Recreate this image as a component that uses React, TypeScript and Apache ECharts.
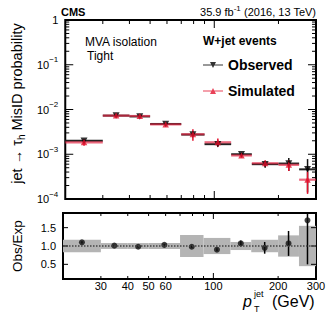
import React, { useEffect, useRef } from 'react';
import * as echarts from 'echarts';

// ---- data ----
const binEdges = [20, 30, 40, 50, 70, 90, 120, 150, 200, 250, 300];
const observed = [2.0e-3, 7.3e-3, 7.0e-3, 4.75e-3, 2.75e-3, 1.68e-3, 1.0e-3, 6.0e-4, 6.2e-4, 4.6e-4];
const observedErr = [0.06e-3, 0.15e-3, 0.14e-3, 0.14e-3, 0.14e-3, 0.08e-3, 0.07e-3, 1.0e-4, 2.0e-4, 3.2e-4];
const simulated = [1.85e-3, 7.3e-3, 7.15e-3, 4.65e-3, 2.8e-3, 1.85e-3, 0.94e-3, 6.3e-4, 5.8e-4, 2.7e-4];
const simulatedErr = [0.3e-3, 0.55e-3, 0.55e-3, 0.35e-3, 0.8e-3, 0.4e-3, 0.1e-3, 1.0e-4, 1.6e-4, 1.4e-4];
const ratio = [1.1, 1.01, 0.98, 1.03, 0.98, 0.9, 1.07, 0.95, 1.07, 1.7];
const ratioErr = [0.03, 0.02, 0.02, 0.02, 0.03, 0.04, 0.08, 0.16, 0.34, 1.2];
const expBand = [0.17, 0.08, 0.08, 0.08, 0.3, 0.22, 0.11, 0.17, 0.29, 0.55];
const xTickLabels = [30, 40, 50, 60, 100, 200, 300];
const ratioTickLabels = [0.5, 1.0, 1.5];
const xMinorTicks = [30, 40, 50, 60, 70, 80, 90, 200];
const xMajorTicks = [100];
const yDecades = [1e-4, 1e-3, 1e-2, 1e-1, 1];

const FONT = '"Liberation Sans", Arial, Helvetica, sans-serif';
const RED = '#e3112d';
const X_RANGE: [number, number] = [20, 300];
const Y_RANGE: [number, number] = [1e-4, 1];
const R_RANGE: [number, number] = [0.1, 1.9];

const yMinorTicks: number[] = [];
for (let d = -4; d < 0; d++) {
  for (let m = 2; m <= 9; m++) yMinorTicks.push(m * Math.pow(10, d));
}

function tickRenderer(cfg: {
  xMajor: number[]; xMinor: number[]; yMajor: number[]; yMinor: number[];
  yRange: [number, number]; xMajLen: number; xMinLen: number; yMajLen: number; yMinLen: number;
}) {
  return (_params: any, api: any) => {
    const bl = api.coord([X_RANGE[0], cfg.yRange[0]]);
    const tr = api.coord([X_RANGE[1], cfg.yRange[1]]);
    const children: any[] = [];
    const st = { stroke: '#000', lineWidth: 1 };
    const addX = (v: number, len: number) => {
      const x = api.coord([v, cfg.yRange[0]])[0];
      children.push({ type: 'line', shape: { x1: x, y1: bl[1], x2: x, y2: bl[1] - len }, style: st });
      children.push({ type: 'line', shape: { x1: x, y1: tr[1], x2: x, y2: tr[1] + len }, style: st });
    };
    const addY = (v: number, len: number) => {
      const y = api.coord([X_RANGE[0], v])[1];
      children.push({ type: 'line', shape: { x1: bl[0], y1: y, x2: bl[0] + len, y2: y }, style: st });
      children.push({ type: 'line', shape: { x1: tr[0], y1: y, x2: tr[0] - len, y2: y }, style: st });
    };
    cfg.xMajor.forEach((v) => addX(v, cfg.xMajLen));
    cfg.xMinor.forEach((v) => addX(v, cfg.xMinLen));
    cfg.yMajor.forEach((v) => addY(v, cfg.yMajLen));
    cfg.yMinor.forEach((v) => addY(v, cfg.yMinLen));
    return { type: 'group', children };
  };
}

function barRenderer(color: string, hColor: string, hWidth: number) {
  return (_params: any, api: any) => {
    const c = api.value(0), v = api.value(1), lo = api.value(2), hi = api.value(3), e = api.value(4);
    const pLo = api.coord([lo, v]);
    const pHi = api.coord([hi, v]);
    const pTop = api.coord([c, v + e]);
    const pBot = api.coord([c, Math.max(v - e, 1e-7)]);
    return {
      type: 'group',
      children: [
        { type: 'line', shape: { x1: pLo[0], y1: pLo[1], x2: pHi[0], y2: pHi[1] }, style: { stroke: hColor, lineWidth: hWidth } },
        { type: 'line', shape: { x1: pTop[0], y1: pTop[1], x2: pBot[0], y2: pBot[1] }, style: { stroke: color, lineWidth: 1.5 } },
      ],
    };
  };
}

export default function App() {
  const ref = useRef<HTMLDivElement>(null);
  useEffect(() => {
    const chart = echarts.init(ref.current!, null, { renderer: 'svg' });
    const centers = binEdges.slice(0, -1).map((lo, i) => Math.sqrt(lo * binEdges[i + 1]));
    const obsBars = observed.map((v, i) => [centers[i], v, binEdges[i], binEdges[i + 1], observedErr[i]]);
    const simBars = simulated.map((v, i) => [centers[i], v, binEdges[i], binEdges[i + 1], simulatedErr[i]]);
    const bandData = expBand.map((e, i) => [centers[i], 1, binEdges[i], binEdges[i + 1], e]);
    const ratioData = ratio.map((r, i) => [centers[i], r, ratioErr[i]]);

    const option: any = {
      animation: false,
      textStyle: { fontFamily: FONT },
      grid: [
        { left: 60, top: 20, width: 256, height: 179, show: true, borderColor: '#000', borderWidth: 2, backgroundColor: 'transparent' },
        { left: 60, top: 213, width: 256, height: 66, show: true, borderColor: '#000', borderWidth: 2, backgroundColor: 'transparent' },
      ],
      xAxis: [
        {
          type: 'log', logBase: 10, gridIndex: 0, min: X_RANGE[0], max: X_RANGE[1],
          axisLine: { show: false }, axisTick: { show: false }, axisLabel: { show: false }, splitLine: { show: false },
        },
        {
          type: 'log', logBase: 10, gridIndex: 1, min: X_RANGE[0], max: X_RANGE[1],
          axisLine: { show: false }, axisTick: { show: false }, splitLine: { show: false },
          axisLabel: {
            show: true, customValues: xTickLabels, formatter: (v: number) => String(Math.round(v)),
            fontSize: 11, color: '#000', fontFamily: FONT, margin: 1, showMinLabel: true, showMaxLabel: true,
          },
        },
      ],
      yAxis: [
        {
          type: 'log', logBase: 10, gridIndex: 0, min: Y_RANGE[0], max: Y_RANGE[1],
          axisLine: { show: false }, axisTick: { show: false }, splitLine: { show: false },
          axisLabel: {
            fontSize: 11, color: '#000', fontFamily: FONT, margin: 7, lineHeight: 18,
            formatter: (v: number) => {
              const e = Math.round(Math.log10(v));
              return e === 0 ? '1' : '10{s|\u2212' + -e + '}';
            },
            rich: { s: { fontSize: 8, lineHeight: 8, verticalAlign: 'top', color: '#000', fontFamily: FONT } },
          },
          name: 'jet \u2192 \u03c4{sub|h} MisID probability',
          nameLocation: 'middle', nameRotate: 90, nameGap: 37,
          nameTextStyle: {
            fontSize: 14.5, color: '#000', fontFamily: FONT, lineHeight: 18, padding: [0, 0, 0, 12],
            rich: { sub: { fontSize: 10, lineHeight: 10, verticalAlign: 'bottom', color: '#000', fontFamily: FONT } },
          },
        },
        {
          type: 'value', gridIndex: 1, min: R_RANGE[0], max: R_RANGE[1],
          axisLine: { show: false }, axisTick: { show: false }, splitLine: { show: false },
          axisLabel: {
            customValues: ratioTickLabels, formatter: (v: number) => v.toFixed(1),
            fontSize: 11, color: '#000', fontFamily: FONT, margin: 7,
          },
          name: 'Obs/Exp', nameLocation: 'middle', nameRotate: 90, nameGap: 37,
          nameTextStyle: { fontSize: 13.5, color: '#000', fontFamily: FONT, lineHeight: 18 },
        },
      ],
      legend: {
        left: 198, top: 52, orient: 'vertical', itemGap: 10, itemWidth: 20, itemHeight: 6,
        selectedMode: false,
        textStyle: { fontSize: 14, fontWeight: 'bold', color: '#000', fontFamily: FONT, lineHeight: 16 },
        data: [
          { name: 'Observed', icon: 'path://M0,2.4H20V3.6H0Z M7,0H13L10,6Z' },
          { name: 'Simulated', icon: 'path://M0,2.4H20V3.6H0Z M10,0L13,6H7Z' },
        ],
      },
      graphic: [
        { type: 'text', x: 61, y: 12, style: { text: 'CMS', fontSize: 11, fontWeight: 'bold', fontFamily: FONT, fill: '#000', verticalAlign: 'middle' } },
        {
          type: 'text', x: 316, y: 12,
          style: {
            text: '35.9 fb{s|-1} (2016, 13 TeV)', fontSize: 11, fontFamily: FONT, fill: '#000', align: 'right', verticalAlign: 'middle', lineHeight: 16,
            rich: { s: { fontSize: 8, lineHeight: 8, verticalAlign: 'top', fontFamily: FONT, fill: '#000' } },
          },
        },
        { type: 'text', x: 85, y: 42, style: { text: 'MVA isolation', fontSize: 12, fontFamily: FONT, fill: '#000', verticalAlign: 'middle' } },
        { type: 'text', x: 87, y: 55.5, style: { text: 'Tight', fontSize: 12, fontFamily: FONT, fill: '#000', verticalAlign: 'middle' } },
        { type: 'text', x: 203, y: 41, style: { text: 'W+jet events', fontSize: 12, fontWeight: 'bold', fontFamily: FONT, fill: '#000', verticalAlign: 'middle' } },
        { type: 'text', x: 243, y: 301, style: { text: 'p', fontSize: 16, fontStyle: 'italic', fontFamily: FONT, fill: '#000', verticalAlign: 'middle' } },
        { type: 'text', x: 254, y: 294, style: { text: 'jet', fontSize: 9, fontFamily: FONT, fill: '#000', verticalAlign: 'middle' } },
        { type: 'text', x: 254, y: 309, style: { text: 'T', fontSize: 9, fontFamily: FONT, fill: '#000', verticalAlign: 'middle' } },
        { type: 'text', x: 272, y: 301, style: { text: '(GeV)', fontSize: 16, fontFamily: FONT, fill: '#000', verticalAlign: 'middle' } },
      ],
      series: [
        {
          type: 'custom', name: 'ticksTop', xAxisIndex: 0, yAxisIndex: 0, silent: true,
          data: [[100, 0.01]],
          renderItem: tickRenderer({
            xMajor: xMajorTicks, xMinor: xMinorTicks, yMajor: yDecades, yMinor: yMinorTicks,
            yRange: Y_RANGE, xMajLen: 8, xMinLen: 4, yMajLen: 8, yMinLen: 4,
          }),
        },
        {
          type: 'custom', name: 'obsBars', xAxisIndex: 0, yAxisIndex: 0, clip: true,
          data: obsBars, encode: { x: 0, y: 1 }, renderItem: barRenderer('#111', '#222', 2),
        },
        {
          type: 'custom', name: 'simBars', xAxisIndex: 0, yAxisIndex: 0, clip: true,
          data: simBars, encode: { x: 0, y: 1 }, renderItem: barRenderer(RED, 'rgba(226,40,70,0.7)', 2.2),
        },
        {
          type: 'scatter', name: 'Observed', xAxisIndex: 0, yAxisIndex: 0,
          data: observed.map((v, i) => [centers[i], v]),
          symbol: 'path://M0,0H10L5,9Z', symbolSize: [7, 6.5], itemStyle: { color: '#000' },
        },
        {
          type: 'scatter', name: 'Simulated', xAxisIndex: 0, yAxisIndex: 0,
          data: simulated.map((v, i) => [centers[i], v]),
          symbol: 'path://M5,0L10,9H0Z', symbolSize: [6.5, 6], itemStyle: { color: RED },
        },
        {
          type: 'custom', name: 'band', xAxisIndex: 1, yAxisIndex: 1, clip: true,
          data: bandData, encode: { x: 0, y: 1 },
          renderItem: (_p: any, api: any) => {
            const v = api.value(1), lo = api.value(2), hi = api.value(3), e = api.value(4);
            const a = api.coord([lo, v + e]);
            const b = api.coord([hi, v - e]);
            return { type: 'rect', shape: { x: a[0], y: a[1], width: b[0] - a[0], height: b[1] - a[1] }, style: { fill: '#b4b4b4' } };
          },
          markLine: {
            silent: true, symbol: 'none', label: { show: false },
            lineStyle: { color: '#444', type: 'dotted', width: 1.5 },
            data: [{ yAxis: 1 }],
          },
        },
        {
          type: 'custom', name: 'ticksBottom', xAxisIndex: 1, yAxisIndex: 1, silent: true,
          data: [[100, 1]],
          renderItem: tickRenderer({
            xMajor: xMajorTicks, xMinor: xMinorTicks, yMajor: ratioTickLabels, yMinor: [],
            yRange: R_RANGE, xMajLen: 6, xMinLen: 3, yMajLen: 5, yMinLen: 3,
          }),
        },
        {
          type: 'custom', name: 'ratioErr', xAxisIndex: 1, yAxisIndex: 1, clip: true,
          data: ratioData, encode: { x: 0, y: 1 },
          renderItem: (_p: any, api: any) => {
            const c = api.value(0), r = api.value(1), e = api.value(2);
            const t = api.coord([c, r + e]);
            const b = api.coord([c, r - e]);
            return { type: 'line', shape: { x1: t[0], y1: t[1], x2: b[0], y2: b[1] }, style: { stroke: '#000', lineWidth: 1.5 } };
          },
        },
        {
          type: 'scatter', name: 'ratio', xAxisIndex: 1, yAxisIndex: 1,
          data: ratioData.map((d) => [d[0], d[1]]),
          symbol: 'circle', symbolSize: 6, itemStyle: { color: '#111' },
        },
      ],
    };
    chart.setOption(option);
    return () => chart.dispose();
  }, []);
  return <div ref={ref} style={{ position: 'absolute', left: 0, top: 0, width: 332, height: 319 }} />;
}
